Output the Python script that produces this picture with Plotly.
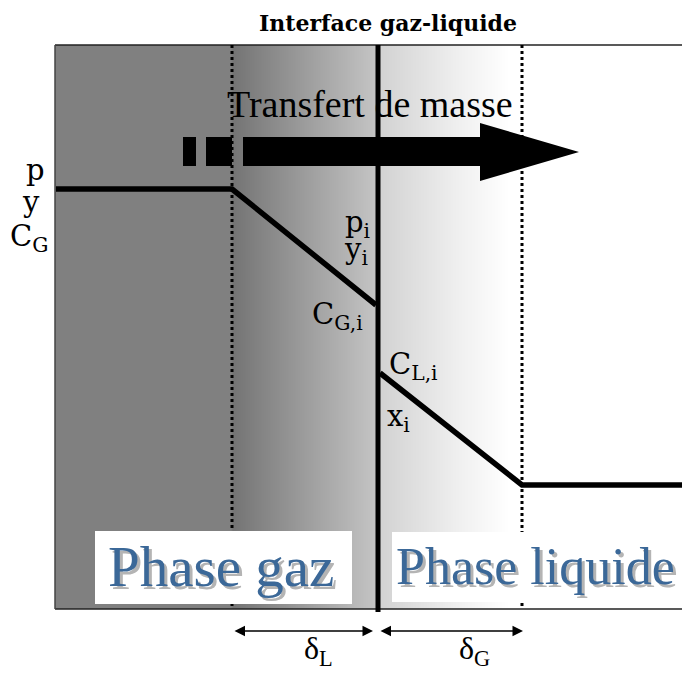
import numpy as np
import plotly.graph_objects as go

# ---- data (diagram coordinates: x = position, y = level, screen-like units) ----
frame_left, frame_right, frame_top, frame_bottom = 55, 690, 45, 609
film_gas_x = 232          # gas film boundary (dotted)
interface_x = 378         # gas-liquid interface
film_liq_x = 522          # liquid film boundary (dotted)

gas_profile_x = [56, 232, 376]
gas_profile_y = [189, 189, 305]
liq_profile_x = [380, 522, 690]
liq_profile_y = [373, 485, 485]

# background shading stops (grey level 0-255)
shade_x = [55, 231, 233, 376, 380, 460, 510, 690]
shade_gray = [128, 128, 116, 196, 210, 240, 255, 255]

labels_left = ["p", "y", "C<sub>G</sub>"]
labels_interface_gas = ["p<sub>i</sub>", "y<sub>i</sub>", "C<sub>G,i</sub>"]
labels_interface_liq = ["C<sub>L,i</sub>", "x<sub>i</sub>"]
film_labels = ["δ<sub>L</sub>", "δ<sub>G</sub>"]
phase_labels = ["Phase gaz", "Phase liquide"]
title_text = "Interface gaz-liquide"
arrow_text = "Transfert de masse"

# arrow geometry
arrow_bar = dict(x0=243, x1=480, y0=137, y1=166)
arrow_head = dict(x=480, top=123, bottom=181, tip=579)
dash_blocks = [(183, 196), (206, 232)]

# page body has an 8px margin: shift the figure so diagram units equal window pixels
PAGE_MARGIN = 8
W, H = 690, 675

fig = go.Figure()

# background gradient
edges_x = np.arange(frame_left, frame_right + 1)
centers = (edges_x[:-1] + edges_x[1:]) / 2
z_row = np.interp(centers, shade_x, shade_gray)
fig.add_trace(go.Heatmap(
    x=edges_x, y=[frame_top, frame_bottom], z=[z_row],
    colorscale=[[0, "rgb(0,0,0)"], [1, "rgb(255,255,255)"]],
    zmin=0, zmax=255, showscale=False, hoverinfo="skip", zsmooth=False))

# concentration profiles
fig.add_trace(go.Scatter(x=gas_profile_x, y=gas_profile_y, mode="lines",
                         line=dict(color="black", width=5.5), hoverinfo="skip", showlegend=False))
fig.add_trace(go.Scatter(x=liq_profile_x, y=liq_profile_y, mode="lines",
                         line=dict(color="black", width=5.5), hoverinfo="skip", showlegend=False))

shapes = []
# frame
shapes.append(dict(type="line", x0=frame_left, x1=frame_right + 5, y0=frame_top, y1=frame_top,
                   line=dict(color="#222", width=1.5)))
shapes.append(dict(type="line", x0=frame_left, x1=frame_right + 5, y0=frame_bottom, y1=frame_bottom,
                   line=dict(color="#222", width=1.5)))
shapes.append(dict(type="line", x0=frame_left, x1=frame_left, y0=frame_top, y1=frame_bottom,
                   line=dict(color="#444", width=1.5)))
# film boundaries (dotted)
for fx in (film_gas_x, film_liq_x):
    shapes.append(dict(type="line", x0=fx, x1=fx, y0=frame_top, y1=frame_bottom,
                       line=dict(color="black", width=3, dash="dot")))
# white boxes behind phase labels
shapes.append(dict(type="rect", x0=95, x1=352, y0=531, y1=604, fillcolor="white", line=dict(width=0)))
shapes.append(dict(type="rect", x0=392, x1=695, y0=532, y1=602, fillcolor="white", line=dict(width=0)))
# interface line
shapes.append(dict(type="line", x0=interface_x, x1=interface_x, y0=frame_top, y1=frame_bottom + 3,
                   line=dict(color="black", width=5)))
# mass-transfer arrow
for bx0, bx1 in dash_blocks:
    shapes.append(dict(type="rect", x0=bx0, x1=bx1, y0=arrow_bar["y0"], y1=arrow_bar["y1"],
                       fillcolor="black", line=dict(width=0)))
path = (f"M {arrow_bar['x0']} {arrow_bar['y0']} L {arrow_head['x']} {arrow_bar['y0']} "
        f"L {arrow_head['x']} {arrow_head['top']} "
        f"L {arrow_head['tip']} {(arrow_head['top'] + arrow_head['bottom']) / 2} "
        f"L {arrow_head['x']} {arrow_head['bottom']} L {arrow_head['x']} {arrow_bar['y1']} "
        f"L {arrow_bar['x0']} {arrow_bar['y1']} Z")
shapes.append(dict(type="path", path=path, fillcolor="black", line=dict(width=0)))

annotations = []
serif = "Liberation Serif, Times New Roman, serif"
wide_serif = "DejaVu Serif, serif"


def txt(text, x, y, size, xanchor="left", color="black", family=serif, bold=False):
    if bold:
        text = f"<b>{text}</b>"
    annotations.append(dict(text=text, x=x, y=y, xref="x", yref="y", showarrow=False,
                            xanchor=xanchor, yanchor="middle",
                            font=dict(family=family, size=size, color=color)))


txt(title_text, 388, 23, 22, xanchor="center", family=wide_serif, bold=True)
txt(arrow_text, 225, 104, 38)

for lab, (lx, ly) in zip(labels_left, [(35, 170), (31, 202), (8, 238)]):
    txt(lab, lx, ly, 29, xanchor="center" if lab in ("p", "y") else "left", family=wide_serif)
for lab, (lx, ly) in zip(labels_interface_gas, [(343, 224), (342, 251), (310, 316)]):
    txt(lab, lx, ly, 29, family=wide_serif)
for lab, (lx, ly) in zip(labels_interface_liq, [(387, 366), (385, 418)]):
    txt(lab, lx, ly, 29, family=wide_serif)

# phase labels with drop shadow
for lab, (lx, ly) in zip(phase_labels, [(106, 566), (394, 566)]):
    size = 57 if lab == "Phase gaz" else 52
    txt(lab, lx + 3, ly + 3, size, color="#b4b4b4")
    txt(lab, lx, ly, size, color="#3b6898")

# film thickness arrows
for (x0, x1) in [(233, 373), (379, 523)]:
    annotations.append(dict(x=x1, y=631, ax=x0, ay=631, xref="x", yref="y", axref="x", ayref="y",
                            showarrow=True, arrowhead=2, arrowside="end+start", arrowsize=1.4,
                            arrowwidth=1.5, arrowcolor="black", text=""))
txt(film_labels[0], 302, 650, 32)
txt(film_labels[1], 457, 650, 32)

fig.update_layout(
    width=W - PAGE_MARGIN, height=H - PAGE_MARGIN, margin=dict(l=0, r=0, t=0, b=0),
    paper_bgcolor="white", plot_bgcolor="white",
    xaxis=dict(range=[PAGE_MARGIN, W], visible=False, fixedrange=True),
    yaxis=dict(range=[H, PAGE_MARGIN], visible=False, fixedrange=True),
    shapes=shapes, annotations=annotations, showlegend=False,
)
fig.write_html("out.html")
